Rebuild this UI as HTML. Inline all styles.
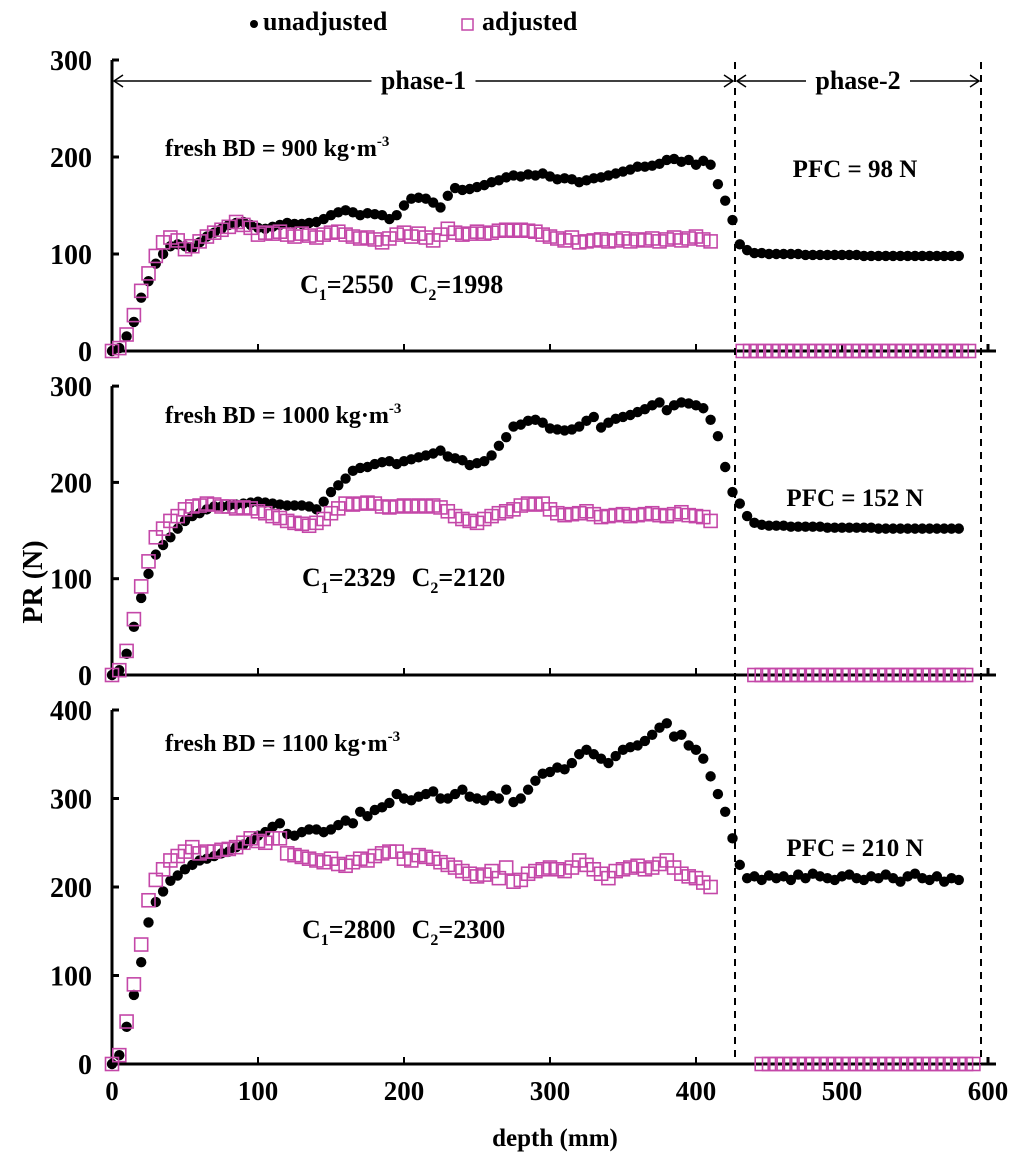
<!DOCTYPE html>
<html><head><meta charset="utf-8"><style>
body{margin:0;background:#fff}
svg{display:block}
text{font-family:"Liberation Serif",serif;font-weight:bold;fill:#000}
</style></head><body>
<svg id="chart" width="1024" height="1164" viewBox="0 0 1024 1164" xmlns="http://www.w3.org/2000/svg"></svg>
<script>
// depth grid for phase 1: 0..410 step 5
const p1Unadj=[0,3,15,30,55,72,90,100,108,110,108,106,112,118,122,126,130,132,133,130,127,126,128,130,132,131,131,132,133,136,140,143,145,143,140,142,141,140,136,140,150,157,158,157,153,148,160,168,166,167,169,171,174,176,179,181,180,182,181,183,180,177,178,177,174,176,178,179,181,183,185,187,190,190,191,193,197,198,195,197,192,196,192];
const p1Adj=[0,3,17,37,62,80,98,112,117,114,105,108,113,118,122,125,128,133,130,127,120,122,121,123,120,118,121,119,117,120,122,123,120,118,116,117,115,112,116,120,122,118,121,117,114,120,126,122,120,121,123,121,122,124,125,124,125,124,123,120,118,116,114,117,112,113,114,115,113,114,116,113,115,114,116,113,115,117,114,116,118,115,113];
const p1TailDepth=[415,420,425,430,435,440,445,450,455,460,465,470,475,480,485,490,495,500,505,510,515,520,525,530,535,540,545,550,555,560,565,570,575,580];
const p1TailUnadj=[172,155,135,110,104,101,101,100,100,100,100,100,99,99,99,99,99,99,99,99,98,98,98,98,98,98,98,98,98,98,98,98,98,98];
const p1ZeroDepth=[432,437,442,447,452,457,462,467,472,477,482,487,492,497,502,507,512,517,522,527,532,537,542,547,552,557,562,567,572,577,582,587];

const p2Unadj=[0,5,22,50,80,105,125,135,143,152,160,165,168,172,175,175,176,177,178,179,180,179,178,177,176,176,176,175,172,180,190,197,204,212,215,216,219,221,222,219,222,224,226,228,230,233,227,225,223,218,220,222,228,238,247,258,260,264,265,262,256,255,254,255,258,264,268,257,262,266,268,270,273,276,280,283,275,280,283,282,280,277,265];
const p2Adj=[0,5,25,58,92,118,143,152,160,165,172,175,176,178,177,175,175,173,174,173,170,168,165,163,160,158,157,155,158,162,168,173,178,177,178,179,178,175,174,175,176,175,176,175,176,174,170,165,162,160,158,162,165,168,170,172,176,178,177,178,172,168,166,167,168,170,167,164,165,166,167,165,166,167,168,166,165,167,169,166,165,164,160];
const p2TailDepth=[415,420,425,430,435,440,445,450,455,460,465,470,475,480,485,490,495,500,505,510,515,520,525,530,535,540,545,550,555,560,565,570,575,580];
const p2TailUnadj=[248,216,190,178,165,158,156,155,155,155,154,154,154,154,154,153,153,153,153,153,153,153,152,152,152,152,152,152,152,152,152,152,152,152];
const p2ZeroDepth=[440,445,450,455,460,465,470,475,480,485,490,495,500,505,510,515,520,525,530,535,540,545,550,555,560,565,570,575,580,585];

const p3Unadj=[0,10,42,78,115,160,183,195,207,213,220,225,230,232,235,238,240,245,248,252,258,262,268,272,260,258,262,265,265,262,265,270,275,272,285,280,287,290,295,305,300,298,302,305,308,300,300,305,310,302,300,298,303,300,310,296,300,310,320,328,330,335,333,340,350,355,350,345,340,348,355,358,360,365,372,380,385,370,372,360,355,345,325];
const p3Adj=[0,10,48,90,135,185,208,220,230,235,240,245,238,240,240,242,243,245,250,255,252,250,255,255,238,236,234,232,230,228,232,226,224,228,232,230,235,238,240,240,232,230,236,234,232,228,225,222,218,215,212,214,218,210,222,206,208,215,218,220,222,220,218,222,230,225,220,215,210,218,220,222,224,220,222,226,230,222,215,212,210,205,200];
const p3TailDepth=[415,420,425,430,435,440,445,450,455,460,465,470,475,480,485,490,495,500,505,510,515,520,525,530,535,540,545,550,555,560,565,570,575,580];
const p3TailUnadj=[305,285,255,225,210,212,208,213,210,212,208,214,210,215,212,210,208,212,214,210,208,212,210,214,210,206,212,215,210,208,212,206,210,208];
const p3ZeroDepth=[445,450,455,460,465,470,475,480,485,490,495,500,505,510,515,520,525,530,535,540,545,550,555,560,565,570,575,580,585,590];

const xTicks=[0,100,200,300,400,500,600];
const p1Ticks=[0,100,200,300], p2Ticks=[0,100,200,300], p3Ticks=[0,100,200,300,400];

const NS="http://www.w3.org/2000/svg";
const svg=document.getElementById('chart');
function mk(tag,attrs,parent){const e=document.createElementNS(NS,tag);for(const k in attrs)e.setAttribute(k,attrs[k]);(parent||svg).appendChild(e);return e;}
const X0=112, PX=1.46;
const xs=d=>X0+d*PX;
const MAG="#c447a8";

function cLabel(a,b){return "C<tspan font-size='16' dy='7'>1</tspan><tspan dy='-7'>="+a+"</tspan><tspan dx='16'>C</tspan><tspan font-size='16' dy='7'>2</tspan><tspan dy='-7'>="+b+"</tspan>";}

const panels=[
 {y0:351,ppu:0.97,max:300,ticks:p1Ticks,un:p1Unadj,ad:p1Adj,td:p1TailDepth,tu:p1TailUnadj,zd:p1ZeroDepth,bd:"900",bdw:212,c:cLabel("2550","1998"),cx:300,cy:293,pfc:"PFC = 98 N",pfy:177,bdy:156},
 {y0:675,ppu:0.963,max:300,ticks:p2Ticks,un:p2Unadj,ad:p2Adj,td:p2TailDepth,tu:p2TailUnadj,zd:p2ZeroDepth,bd:"1000",bdw:225,c:cLabel("2329","2120"),cx:302,cy:586,pfc:"PFC = 152 N",pfy:506,bdy:423},
 {y0:1064,ppu:0.885,max:400,ticks:p3Ticks,un:p3Unadj,ad:p3Adj,td:p3TailDepth,tu:p3TailUnadj,zd:p3ZeroDepth,bd:"1100",bdw:225,c:cLabel("2800","2300"),cx:302,cy:938,pfc:"PFC = 210 N",pfy:856,bdy:751}
];

panels.forEach((p,i)=>{
  const g=mk('g',{});
  
  
  const ys=v=>p.y0-v*p.ppu;
  const ya=mk('line',{x1:X0,x2:X0,y1:ys(p.max),y2:p.y0,stroke:'#000','stroke-width':3},g);
  
  const xa=mk('line',{x1:X0,x2:996,y1:p.y0,y2:p.y0,stroke:'#000','stroke-width':3},g);
  
  p.ticks.forEach(t=>{
    mk('line',{x1:X0,x2:X0+7,y1:ys(t),y2:ys(t),stroke:'#000','stroke-width':3},g);
    const tl=mk('text',{x:X0-20,y:ys(t)+10,'font-size':28,'text-anchor':'end'},g);
    tl.textContent=t;
    
  });
  xTicks.slice(1).forEach(t=>{
    mk('line',{x1:Math.min(xs(t),996),x2:Math.min(xs(t),996),y1:p.y0,y2:p.y0-7,stroke:'#000','stroke-width':t===600?3:2},g);
  });
  const sq=(d,v)=>{const r=mk('rect',{x:xs(d)-6.5,y:ys(v)-6.5,width:13,height:13,fill:'none',stroke:MAG,'stroke-width':1.6},g);
    };
  const dot=(d,v)=>{const c=mk('circle',{cx:xs(d),cy:ys(v),r:5.2,fill:'#000'},g);
    };
  p.un.forEach((v,k)=>dot(k*5,v));
  p.td.forEach((d,k)=>dot(d,p.tu[k]));
  p.ad.forEach((v,k)=>sq(k*5,v));
  p.zd.forEach(d=>sq(d,0));
  const bt=mk('text',{x:165,y:p.bdy,'font-size':24},g);
  bt.innerHTML="fresh BD = "+p.bd+" kg·m<tspan font-size='15' dy='-10'>-3</tspan>";
  
  const ct=mk('text',{x:p.cx,y:p.cy,'font-size':26},g);
  ct.innerHTML=p.c;
  
  const pt=mk('text',{x:855,y:p.pfy,'font-size':25,'text-anchor':'middle'},g);
  pt.textContent=p.pfc;
  
});

xTicks.forEach(t=>{
  const tl=mk('text',{x:xs(t),y:1100,'font-size':27,'text-anchor':'middle'});
  tl.textContent=t;
  
});
const xt=mk('text',{x:555,y:1146,'font-size':25,'text-anchor':'middle'});xt.textContent='depth (mm)';

const yt=mk('text',{x:0,y:0,'font-size':28,'text-anchor':'middle',transform:'translate(42,582) rotate(-90)'});yt.textContent='PR (N)';


[735,981].forEach(x=>{const l=mk('line',{x1:x,x2:x,y1:62,y2:1064,stroke:'#000','stroke-width':2,'stroke-dasharray':'7,6'});
  });
function arrow(x1,x2,label,name,tw){
  const g=mk('g',{});
  
  
  const mid=(x1+x2)/2, y=81;
  mk('line',{x1:x1+2,x2:mid-tw/2-6,y1:y,y2:y,stroke:'#000','stroke-width':1.5},g);
  mk('line',{x1:mid+tw/2+6,x2:x2-2,y1:y,y2:y,stroke:'#000','stroke-width':1.5},g);
  mk('path',{d:`M${x1+11},${y-6} L${x1+2},${y} L${x1+11},${y+6}`,fill:'none',stroke:'#000','stroke-width':1.5},g);
  mk('path',{d:`M${x2-11},${y-6} L${x2-2},${y} L${x2-11},${y+6}`,fill:'none',stroke:'#000','stroke-width':1.5},g);
  const t=mk('text',{x:mid,y:y+8,'font-size':26,'text-anchor':'middle'},g);t.textContent=label;
}
arrow(112,735,'phase-1','phase-1-arrow',92);
arrow(735,981,'phase-2','phase-2-arrow',92);

const lg=mk('g',{});


mk('circle',{cx:254,cy:24,r:4,fill:'#000'},lg);
const l1=mk('text',{x:263,y:30,'font-size':26},lg);l1.textContent='unadjusted';

mk('rect',{x:462,y:19,width:11,height:11,fill:'none',stroke:MAG,'stroke-width':1.5},lg);
const l2=mk('text',{x:482,y:30,'font-size':26},lg);l2.textContent='adjusted';

</script>
</body></html>
